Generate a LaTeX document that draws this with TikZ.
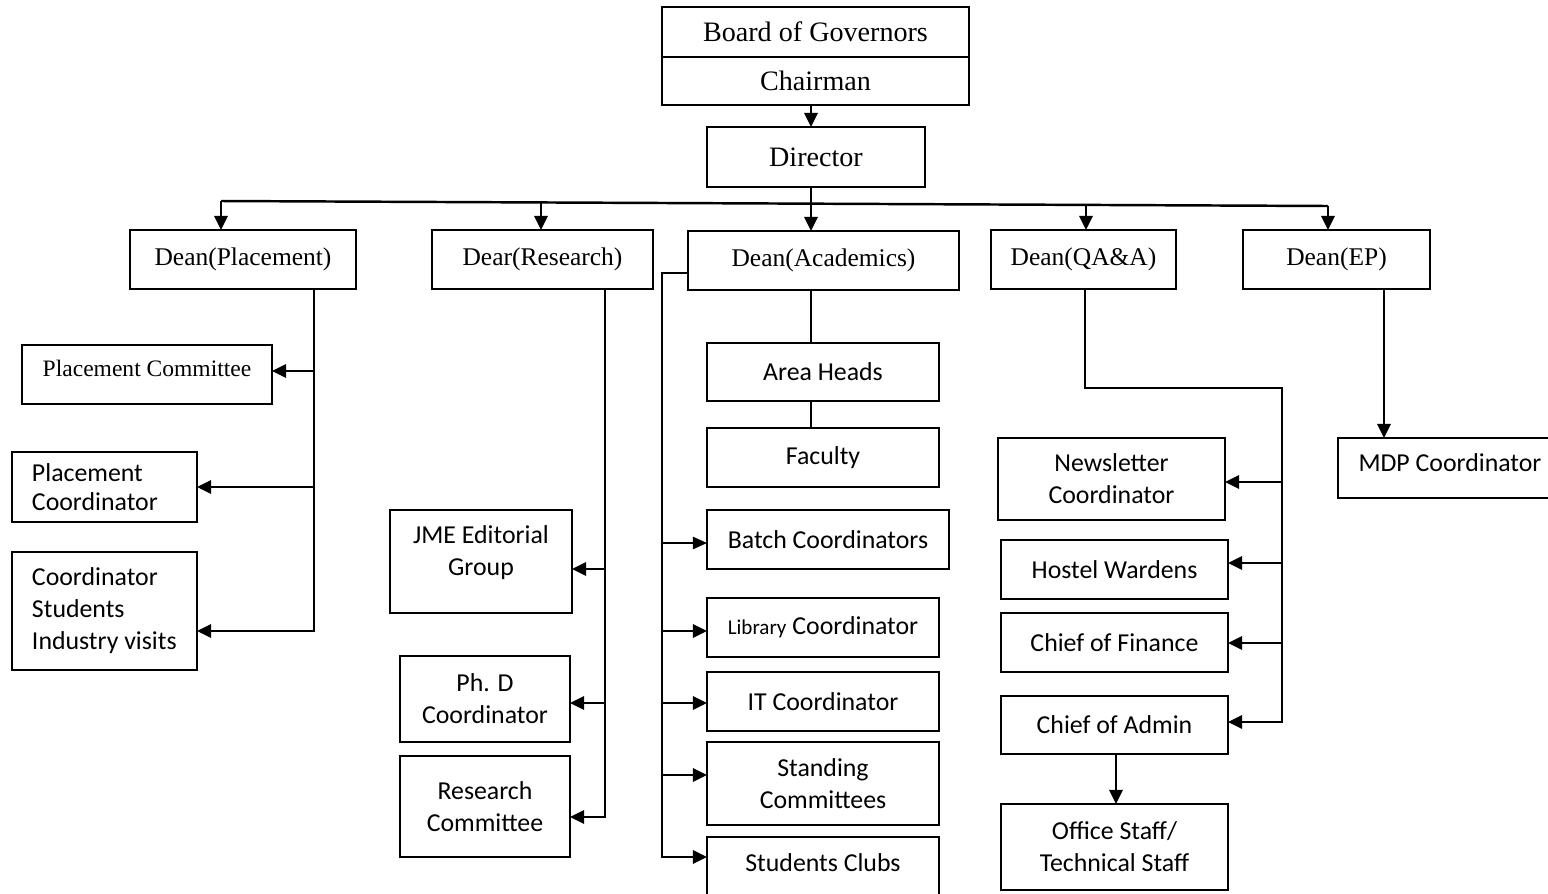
\documentclass[tikz,border=0pt]{standalone}
\usepackage{fontspec}
\setmainfont{Liberation Serif}
\newfontfamily\carl{Carlito}
\usetikzlibrary{arrows.meta,calc}
\newcommand\obox[6][]{\node[#1, minimum width={(#4-#2)*0.02cm}, minimum height={(#5-#3)*0.02cm}] (#6) at ({(#2+#4)/2},{(#3+#5)/2})}
\tikzset{
  boxbase/.style={draw, line width=1.5pt, inner sep=0pt, outer sep=0pt, align=center},
  sbox/.style={boxbase, font=\carl\fontsize{14.7}{18.2}\selectfont},
  tbox/.style={boxbase, font=\fontsize{16}{19}\selectfont},
  dbox/.style={boxbase, font=\fontsize{14.5}{18}\selectfont},
  lbox/.style={sbox, align=flush left, inner xsep=0.4cm, text width={(#1)*0.02cm-0.8cm}},
  ln/.style={line width=1.4pt},
  arr/.style={ln, -{Triangle[length=8pt,width=7.5pt]}},
  thinarr/.style={line width=0.8pt, -{Triangle[length=8pt,width=7pt]}}
}
\begin{document}
\begin{tikzpicture}[x=0.02cm,y=-0.02cm]
\useasboundingbox (0,0) rectangle (1548,893);
% top
\obox[tbox]{662}{7}{969}{57}{bog} {Board of Governors};
\obox[tbox]{662}{57}{969}{105}{chair} {Chairman};
\obox[tbox]{707}{127}{925}{187}{dir} {Director};
% deans
\obox[dbox]{130}{230}{356}{289}{dpl} {Dean(Placement)};
\obox[dbox]{432}{230}{653}{289}{dre} {Dear(Research)};
\obox[dbox]{688}{231}{959}{290}{dac} {Dean(Academics)};
\obox[dbox]{991}{230}{1176}{289}{dqa} {Dean(QA\&A)};
\obox[dbox]{1243}{230}{1430}{289}{dep} {Dean(EP)};
% placement
\obox[boxbase, font=\fontsize{13.4}{16}\selectfont, text depth=6.8pt]{22}{345}{272}{404}{pcm} {Placement Committee};
\obox[lbox=185]{12}{452}{197}{522}{pco} {Placement\\[-1.5pt]Coordinator};
\obox[lbox=185]{12}{552}{197}{670}{sic} {Coordinator\\Students\\Industry visits};
% research
\obox[sbox, text depth=13pt]{390}{510}{572}{613}{jme} {JME Editorial\\Group};
\obox[sbox]{400}{656}{570}{742}{phd} {Ph. D\\Coordinator};
\obox[sbox]{400}{756}{570}{857}{rc} {Research\\Committee};
% academics
\obox[sbox]{707}{343}{939}{401}{ah} {Area Heads};
\obox[sbox]{707}{428}{939}{487}{fac} {Faculty};
\obox[sbox]{707}{510}{949}{569}{bat} {Batch Coordinators};
\obox[sbox]{707}{598}{939}{657}{lib} {{\fontsize{12}{14}\selectfont Library} Coordinator};
\obox[sbox]{707}{672}{939}{731}{itc} {IT Coordinator};
\obox[sbox]{707}{742}{939}{825}{stc} {Standing\\Committees};
\obox[sbox, text depth=6.8pt]{707}{837}{939}{900}{scl} {Students Clubs};
% QA&A
\obox[sbox]{998}{438}{1225}{520}{nl} {Newsletter\\Coordinator};
\obox[sbox]{1001}{540}{1228}{599}{hw} {Hostel Wardens};
\obox[sbox]{1001}{613}{1228}{672}{cf} {Chief of Finance};
\obox[sbox]{1001}{696}{1228}{754}{cad} {Chief of Admin};
\obox[sbox]{1001}{804}{1228}{890}{off} {Office Staff/\\Technical Staff};
% EP
\obox[sbox, text depth=5.7pt]{1338}{438}{1562}{498}{mdp} {MDP Coordinator};

% connectors top
\coordinate (cx) at (811,0);
\draw[arr] (chair.south -| cx) -- (dir.north -| cx);
\draw[arr] (dir.south -| cx) -- (dac.north -| cx);
\coordinate (busL) at (221,201);
\coordinate (busR) at (1328,206);
\coordinate (busRe) at (541,202.5);
\coordinate (busQ) at (1086,205);
\draw[ln] (busL) -- (busR);
\draw[arr] (busL) -- (busL |- dpl.north);
\draw[arr] (busRe) -- (busRe |- dre.north);
\draw[arr] (busQ) -- (busQ |- dqa.north);
\draw[arr] (busR) -- (busR |- dep.north);

% placement trunk
\coordinate (tP) at (314,631);
\draw[arr] (dpl.south -| tP) -- (tP) -- (sic.east |- tP);
\draw[arr] (tP |- 0,371) -- (pcm.east |- 0,371);
\draw[arr] (tP |- 0,487) -- (pco.east |- 0,487);

% research trunk
\coordinate (tR) at (605,817);
\draw[arr] (dre.south -| tR) -- (tR) -- (rc.east |- tR);
\draw[arr] (tR |- 0,569) -- (jme.east |- 0,569);
\draw[arr] (tR |- 0,703) -- (phd.east |- 0,703);

% academics
\coordinate (tAt) at (662,273);
\coordinate (tA) at (662,857);
\draw[arr] (dac.west |- tAt) -- (tAt) -- (tA) -- (scl.west |- tA);
\draw[thinarr] (tA |- 0,543) -- (bat.west |- 0,543);
\draw[arr] (tA |- 0,631) -- (lib.west |- 0,631);
\draw[arr] (tA |- 0,703) -- (itc.west |- 0,703);
\draw[arr] (tA |- 0,775) -- (stc.west |- 0,775);
\draw[ln] (dac.south -| cx) -- (ah.north -| cx);
\draw[ln] (ah.south -| cx) -- (fac.north -| cx);

% QA&A
\coordinate (qT) at (1085,388);
\coordinate (qR) at (1282,388);
\coordinate (qB) at (1282,722);
\draw[arr] (dqa.south -| qT) -- (qT) -- (qR) -- (qB) -- (cad.east |- qB);
\draw[arr] (qR |- 0,482) -- (nl.east |- 0,482);
\draw[arr] (qR |- 0,563) -- (hw.east |- 0,563);
\draw[arr] (qR |- 0,643) -- (cf.east |- 0,643);
\coordinate (ox) at (1116,0);
\draw[arr] (cad.south -| ox) -- (off.north -| ox);

% EP
\coordinate (ep) at (1384,0);
\draw[arr] (dep.south -| ep) -- (mdp.north -| ep);
\end{tikzpicture}
\end{document}
